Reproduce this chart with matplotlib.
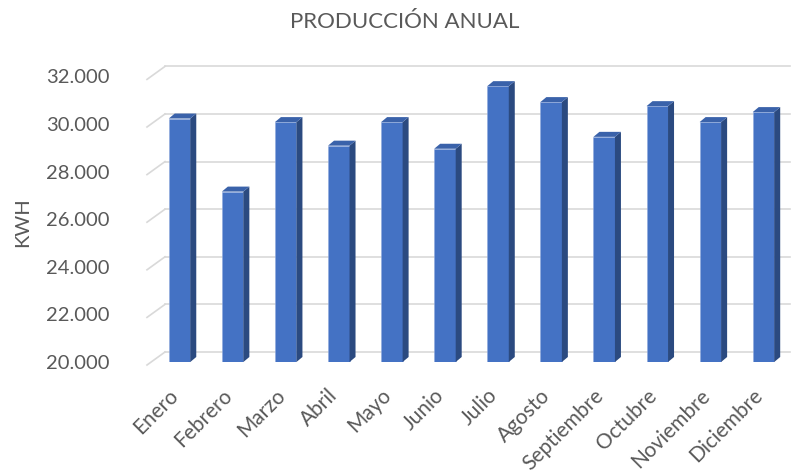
import matplotlib.pyplot as plt
import matplotlib.transforms as mtransforms
from matplotlib.lines import Line2D
from matplotlib.patches import Polygon

MONTHS = ["Enero", "Febrero", "Marzo", "Abril", "Mayo", "Junio", "Julio",
          "Agosto", "Septiembre", "Octubre", "Noviembre", "Diciembre"]
KWH = [30230, 27160, 30080, 29090, 30080, 28960, 31590, 30920, 29460, 30750, 30080, 30500]
Y_TICKS = [20000, 22000, 24000, 26000, 28000, 30000, 32000]
Y_LABELS = ["20.000", "22.000", "24.000", "26.000", "28.000", "30.000", "32.000"]

FRONT = "#4472C4"
SIDE = "#2B4A80"
TOP = "#3A62AA"
TEXT = "#595959"
GRID = "#D9D9D9"

plt.rcParams["font.family"] = ["Lato", "DejaVu Sans"]

W, H = 793, 470
fig = plt.figure(figsize=(W / 100, H / 100), dpi=100)
ax = fig.add_axes([150 / W, (H - 362) / H, 640 / W, 285.6 / H])
ax.set_xlim(-0.556, 11.5)
ax.set_ylim(20000, 32000)
for s in ax.spines.values():
    s.set_visible(False)

x = list(range(len(MONTHS)))
width = 0.405
ax.bar(x, [v - 20000 for v in KWH], bottom=20000, width=width, color=FRONT,
       edgecolor="#8FA9DC", linewidth=0.4, zorder=3)

# fake 3D depth: side and top faces, shifted by a fixed pixel offset
dx = 6 / 53.09
dy = 5 / 47.6 * 2000
for xi, v in zip(x, KWH):
    l, r = xi - width / 2, xi + width / 2
    ax.add_patch(Polygon([(r, 20000), (r + dx, 20000 + dy), (r + dx, v + dy), (r, v)],
                         closed=True, facecolor=SIDE, edgecolor="none", zorder=3))
    ax.add_patch(Polygon([(l, v), (r, v), (r + dx, v + dy), (l + dx, v + dy)],
                         closed=True, facecolor=TOP, edgecolor="none", zorder=3))

# back wall gridlines with a small perspective diagonal on the left
ytrans = ax.get_yaxis_transform()
back = ytrans + mtransforms.ScaledTranslation(0, 0.10, fig.dpi_scale_trans)
front = ytrans + mtransforms.ScaledTranslation(0, -0.03, fig.dpi_scale_trans)
for v in Y_TICKS:
    ax.add_line(Line2D([15 / 640, 1.0], [v, v], transform=back, color=GRID,
                       lw=1.2, zorder=1, clip_on=False))
    p0 = front.transform((-3 / 640, v))
    p1 = back.transform((15 / 640, v))
    fig.add_artist(Line2D([p0[0] / W, p1[0] / W], [p0[1] / H, p1[1] / H],
                          transform=fig.transFigure, color=GRID, lw=1.2, zorder=1))

ax.set_yticks(Y_TICKS)
ax.set_yticklabels(Y_LABELS)
ax.set_xticks(x)
ax.set_xticklabels(MONTHS, rotation=45, ha="right", va="center", rotation_mode="anchor")
ax.tick_params(axis="y", length=0, pad=29, labelsize=14.5, labelcolor=TEXT)
ax.tick_params(axis="x", length=0, pad=22, labelsize=15, labelcolor=TEXT)
shift = mtransforms.ScaledTranslation(-0.04, 0, fig.dpi_scale_trans)
for lbl in ax.get_xticklabels():
    lbl.set_transform(lbl.get_transform() + shift)

fig.text(405 / W, 1 - 22 / H, "PRODUCCIÓN ANUAL", ha="center", va="center",
         fontsize=16, color=TEXT)
fig.text(23 / W, 1 - 222 / H, "KWH", ha="center", va="center", rotation=90,
         fontsize=14.5, color=TEXT)

fig.savefig("out.png", dpi=100)
